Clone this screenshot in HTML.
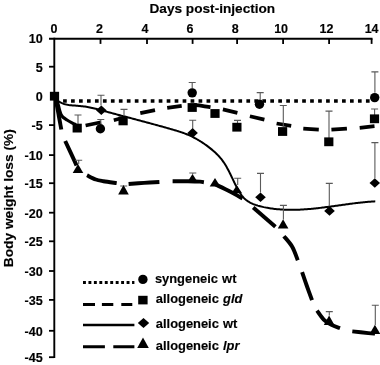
<!DOCTYPE html><html><head><meta charset="utf-8"><style>html,body{margin:0;padding:0;background:#fff;width:380px;height:365px;overflow:hidden;}svg{display:block;will-change:transform;}text{font-family:"Liberation Sans", sans-serif;font-weight:bold;fill:#000;stroke:#000;stroke-width:0.15px;}</style></head><body>
<svg width="380" height="365" viewBox="0 0 380 365">
<path d="M49,38.70 H372.50" stroke="#000" stroke-width="2.1" fill="none"/>
<path d="M54.30,37.70 V358.10" stroke="#000" stroke-width="1.9" fill="none"/>
<path d="M100.50,38.70 V43.9" stroke="#000" stroke-width="1.8" fill="none"/>
<path d="M147.00,38.70 V43.9" stroke="#000" stroke-width="1.8" fill="none"/>
<path d="M192.60,38.70 V43.9" stroke="#000" stroke-width="1.8" fill="none"/>
<path d="M237.10,38.70 V43.9" stroke="#000" stroke-width="1.8" fill="none"/>
<path d="M283.10,38.70 V43.9" stroke="#000" stroke-width="1.8" fill="none"/>
<path d="M329.10,38.70 V43.9" stroke="#000" stroke-width="1.8" fill="none"/>
<path d="M371.60,38.70 V43.9" stroke="#000" stroke-width="1.8" fill="none"/>
<path d="M49,66.70 H54.30" stroke="#000" stroke-width="1.8" fill="none"/>
<path d="M49,125.10 H54.30" stroke="#000" stroke-width="1.8" fill="none"/>
<path d="M49,155.10 H54.30" stroke="#000" stroke-width="1.8" fill="none"/>
<path d="M49,183.20 H54.30" stroke="#000" stroke-width="1.8" fill="none"/>
<path d="M49,212.70 H54.30" stroke="#000" stroke-width="1.8" fill="none"/>
<path d="M49,241.30 H54.30" stroke="#000" stroke-width="1.8" fill="none"/>
<path d="M49,271.00 H54.30" stroke="#000" stroke-width="1.8" fill="none"/>
<path d="M49,299.90 H54.30" stroke="#000" stroke-width="1.8" fill="none"/>
<path d="M49,330.80 H54.30" stroke="#000" stroke-width="1.8" fill="none"/>
<path d="M49,357.20 H54.30" stroke="#000" stroke-width="1.8" fill="none"/>
<text x="54.10" y="32.6" font-size="12.5" text-anchor="middle">0</text>
<text x="99.50" y="32.6" font-size="12.5" text-anchor="middle">2</text>
<text x="144.90" y="32.6" font-size="12.5" text-anchor="middle">4</text>
<text x="190.10" y="32.6" font-size="12.5" text-anchor="middle">6</text>
<text x="235.20" y="32.6" font-size="12.5" text-anchor="middle">8</text>
<text x="281.10" y="32.6" font-size="12.5" text-anchor="middle">10</text>
<text x="326.40" y="32.6" font-size="12.5" text-anchor="middle">12</text>
<text x="371.60" y="32.6" font-size="12.5" text-anchor="middle">14</text>
<text x="42.7" y="43.10" font-size="12.6" text-anchor="end">10</text>
<text x="42.7" y="71.70" font-size="12.6" text-anchor="end">5</text>
<text x="42.7" y="101.00" font-size="12.6" text-anchor="end">0</text>
<text x="42.7" y="130.10" font-size="12.6" text-anchor="end">-5</text>
<text x="42.7" y="160.10" font-size="12.6" text-anchor="end">-10</text>
<text x="42.7" y="188.20" font-size="12.6" text-anchor="end">-15</text>
<text x="42.7" y="217.70" font-size="12.6" text-anchor="end">-20</text>
<text x="42.7" y="246.30" font-size="12.6" text-anchor="end">-25</text>
<text x="42.7" y="276.00" font-size="12.6" text-anchor="end">-30</text>
<text x="42.7" y="304.90" font-size="12.6" text-anchor="end">-35</text>
<text x="42.7" y="335.80" font-size="12.6" text-anchor="end">-40</text>
<text x="42.7" y="362.20" font-size="12.6" text-anchor="end">-45</text>
<text x="149.5" y="13.0" font-size="13.7" textLength="125.7" lengthAdjust="spacingAndGlyphs">Days post-injection</text>
<text transform="translate(13.3,267.2) rotate(-90)" x="0" y="0" font-size="13.7" textLength="138" lengthAdjust="spacingAndGlyphs">Body weight loss (%)</text>
<path d="M55.1,101.0 H370.5" stroke="#000" stroke-width="3.7" stroke-dasharray="3.7 4.27" fill="none"/>
<path d="M55.50,97.00 C55.92,98.17 57.28,101.67 58.00,104.00 C58.72,106.33 59.30,109.25 59.80,111.00 C60.30,112.75 60.47,113.45 61.00,114.50 C61.53,115.55 62.00,116.38 63.00,117.30 C64.00,118.22 65.50,119.08 67.00,120.00 C68.50,120.92 70.50,122.00 72.00,122.80 C73.50,123.60 75.33,124.47 76.00,124.80" stroke="#000" stroke-width="3.20" fill="none"/>
<path d="M85.60,125.50 L101.00,122.30" stroke="#000" stroke-width="3.70" fill="none"/>
<path d="M113.80,120.20 L122.00,118.00" stroke="#000" stroke-width="3.70" fill="none"/>
<path d="M140.30,113.10 L155.00,110.10" stroke="#000" stroke-width="3.70" fill="none"/>
<path d="M167.20,107.90 L181.70,105.90" stroke="#000" stroke-width="3.70" fill="none"/>
<path d="M194.00,105.00 C195.33,105.13 199.25,105.43 202.00,105.80 C204.75,106.17 209.08,106.97 210.50,107.20" stroke="#000" stroke-width="3.70" fill="none"/>
<path d="M222.90,109.40 L237.40,112.90" stroke="#000" stroke-width="3.70" fill="none"/>
<path d="M249.90,116.20 L264.40,119.60" stroke="#000" stroke-width="3.70" fill="none"/>
<path d="M276.60,123.50 L291.20,125.90" stroke="#000" stroke-width="3.70" fill="none"/>
<path d="M303.30,128.60 L318.80,129.60" stroke="#000" stroke-width="3.70" fill="none"/>
<path d="M331.40,129.60 L346.90,128.60" stroke="#000" stroke-width="3.70" fill="none"/>
<path d="M359.70,127.80 L374.50,126.20" stroke="#000" stroke-width="3.70" fill="none"/>
<path d="M54.96,97.05 L55.67,98.12 L56.43,99.10 L57.24,99.98 L58.11,100.77 L59.02,101.48 L59.97,102.11 L60.97,102.67 L62.00,103.16 L63.07,103.59 L64.17,103.96 L65.30,104.28 L66.45,104.56 L67.63,104.79 L68.83,104.99 L70.05,105.16 L71.29,105.30 L72.53,105.42 L73.78,105.53 L75.04,105.62 L76.31,105.71 L77.57,105.80 L78.83,105.90 L80.09,106.01 L81.34,106.13 L82.58,106.27 L83.81,106.43 L85.03,106.61 L86.24,106.80 L87.44,107.01 L88.64,107.23 L89.83,107.46 L91.01,107.71 L92.19,107.96 L93.37,108.23 L94.54,108.51 L95.70,108.79 L96.87,109.08 L98.03,109.38 L99.18,109.68 L100.34,109.99 L101.49,110.30 L102.65,110.61 L103.80,110.92 L104.96,111.24 L106.11,111.55 L107.27,111.86 L108.42,112.18 L109.58,112.49 L110.74,112.80 L111.90,113.11 L113.06,113.42 L114.22,113.73 L115.38,114.04 L116.54,114.35 L117.71,114.67 L118.87,114.98 L120.03,115.29 L121.20,115.60 L122.36,115.91 L123.53,116.22 L124.69,116.52 L125.86,116.83 L127.02,117.14 L128.19,117.45 L129.36,117.76 L130.52,118.07 L131.69,118.39 L132.86,118.70 L134.03,119.01 L135.19,119.32 L136.36,119.63 L137.53,119.94 L138.70,120.25 L139.86,120.56 L141.03,120.87 L142.20,121.19 L143.37,121.50 L144.54,121.81 L145.70,122.13 L146.87,122.44 L148.04,122.76 L149.21,123.07 L150.37,123.39 L151.54,123.70 L152.70,124.02 L153.87,124.34 L155.04,124.66 L156.20,124.98 L157.37,125.30 L158.53,125.62 L159.69,125.94 L160.86,126.26 L162.02,126.58 L163.18,126.91 L164.35,127.23 L165.51,127.56 L166.67,127.88 L167.83,128.21 L168.99,128.54 L170.14,128.87 L171.30,129.20 L172.46,129.53 L173.61,129.86 L174.77,130.20 L175.92,130.54 L177.07,130.89 L178.21,131.25 L179.36,131.61 L180.50,131.98 L181.63,132.37 L182.76,132.76 L183.89,133.17 L185.01,133.59 L186.13,134.02 L187.24,134.47 L188.34,134.93 L189.44,135.41 L190.53,135.91 L191.62,136.42 L192.70,136.96 L193.77,137.51 L194.83,138.07 L195.89,138.66 L196.94,139.25 L197.99,139.86 L199.03,140.49 L200.06,141.12 L201.09,141.77 L202.11,142.44 L203.12,143.11 L204.13,143.79 L205.13,144.49 L206.12,145.19 L207.11,145.91 L208.09,146.63 L209.06,147.37 L210.02,148.11 L210.97,148.87 L211.91,149.64 L212.84,150.42 L213.76,151.22 L214.66,152.02 L215.54,152.84 L216.41,153.67 L217.26,154.52 L218.10,155.38 L218.92,156.25 L219.71,157.14 L220.49,158.05 L221.24,158.97 L221.98,159.90 L222.69,160.85 L223.37,161.82 L224.04,162.80 L224.69,163.79 L225.32,164.80 L225.93,165.82 L226.53,166.85 L227.12,167.89 L227.69,168.94 L228.25,170.00 L228.81,171.06 L229.35,172.14 L229.89,173.22 L230.42,174.30 L230.94,175.39 L231.47,176.49 L231.99,177.58 L232.51,178.68 L233.04,179.78 L233.57,180.88 L234.10,181.99 L234.63,183.09 L235.18,184.18 L235.73,185.28 L236.29,186.37 L236.86,187.46 L237.44,188.54 L238.04,189.62 L238.65,190.68 L239.28,191.74 L239.93,192.78 L240.60,193.80 L241.30,194.80 L242.02,195.77 L242.78,196.70 L243.57,197.59 L244.39,198.44 L245.25,199.23 L246.15,199.99 L247.09,200.69 L248.05,201.35 L249.05,201.97 L250.07,202.55 L251.12,203.09 L252.20,203.59 L253.29,204.07 L254.41,204.51 L255.54,204.92 L256.69,205.30 L257.85,205.66 L259.02,205.99 L260.20,206.30 L261.39,206.60 L262.58,206.87 L263.77,207.14 L264.96,207.38 L266.16,207.62 L267.35,207.84 L268.55,208.05 L269.74,208.24 L270.94,208.43 L272.13,208.60 L273.33,208.75 L274.53,208.90 L275.72,209.04 L276.92,209.16 L278.12,209.27 L279.32,209.37 L280.51,209.47 L281.71,209.55 L282.91,209.62 L284.11,209.68 L285.31,209.73 L286.51,209.77 L287.71,209.80 L288.91,209.82 L290.11,209.83 L291.31,209.84 L292.51,209.83 L293.72,209.82 L294.92,209.80 L296.12,209.77 L297.32,209.73 L298.52,209.69 L299.72,209.64 L300.93,209.58 L302.13,209.51 L303.33,209.44 L304.53,209.36 L305.74,209.28 L306.94,209.19 L308.14,209.09 L309.35,208.99 L310.55,208.88 L311.75,208.77 L312.96,208.66 L314.16,208.53 L315.36,208.41 L316.56,208.28 L317.77,208.14 L318.97,208.01 L320.17,207.87 L321.38,207.72 L322.58,207.57 L323.78,207.42 L324.98,207.27 L326.19,207.11 L327.39,206.96 L328.59,206.80 L329.79,206.64 L331.00,206.47 L332.20,206.31 L333.40,206.14 L334.60,205.98 L335.80,205.81 L337.00,205.64 L338.20,205.47 L339.41,205.31 L340.61,205.14 L341.81,204.97 L343.01,204.80 L344.21,204.64 L345.41,204.47 L346.60,204.31 L347.80,204.15 L349.00,203.99 L350.20,203.83 L351.40,203.67 L352.60,203.52 L353.79,203.37 L354.99,203.22 L356.19,203.08 L357.38,202.93 L358.58,202.80 L359.77,202.66 L360.97,202.53 L362.16,202.40 L363.36,202.28 L364.55,202.16 L365.74,202.05 L366.93,201.94 L368.13,201.84 L369.32,201.74 L370.51,201.65 L371.70,201.56 L372.89,201.48 L374.08,201.41 L375.27,201.34" stroke="#000" stroke-width="2.0" fill="none" stroke-linejoin="round"/>
<path d="M56.00,100.50 L61.30,129.50" stroke="#000" stroke-width="3.95" fill="none" stroke-linejoin="round"/>
<path d="M65.20,141.00 C66.65,144.10 72.02,155.52 73.90,159.60 C75.78,163.68 76.07,164.52 76.50,165.50" stroke="#000" stroke-width="3.95" fill="none" stroke-linejoin="round"/>
<path d="M87.00,175.30 C88.47,176.00 93.05,178.52 95.80,179.50 C98.55,180.48 100.02,180.60 103.50,181.20 C106.98,181.80 114.50,182.78 116.70,183.10" stroke="#000" stroke-width="3.95" fill="none" stroke-linejoin="round"/>
<path d="M128.60,184.00 C131.17,183.82 138.87,183.23 144.00,182.90 C149.13,182.57 156.83,182.15 159.40,182.00" stroke="#000" stroke-width="3.95" fill="none" stroke-linejoin="round"/>
<path d="M172.60,181.20 C175.17,181.20 183.43,181.13 188.00,181.20 C192.57,181.27 197.35,181.43 200.00,181.60 C202.65,181.77 203.25,182.10 203.90,182.20" stroke="#000" stroke-width="3.95" fill="none" stroke-linejoin="round"/>
<path d="M215.50,184.50 C217.92,185.67 225.50,189.17 230.00,191.50 C234.50,193.83 240.42,197.33 242.50,198.50" stroke="#000" stroke-width="3.95" fill="none" stroke-linejoin="round"/>
<path d="M253.20,207.50 L275.40,226.70" stroke="#000" stroke-width="3.95" fill="none" stroke-linejoin="round"/>
<path d="M283.90,236.20 C285.28,237.95 289.88,242.70 292.20,246.70 C294.52,250.70 296.87,257.95 297.80,260.20" stroke="#000" stroke-width="3.95" fill="none" stroke-linejoin="round"/>
<path d="M302.10,272.20 C302.87,274.42 305.05,280.83 306.70,285.50 C308.35,290.17 311.12,297.75 312.00,300.20" stroke="#000" stroke-width="3.95" fill="none" stroke-linejoin="round"/>
<path d="M317.00,310.60 C318.12,312.10 321.30,317.23 323.70,319.60 C326.10,321.97 328.68,323.38 331.40,324.80 C334.12,326.22 338.57,327.55 340.00,328.10" stroke="#000" stroke-width="3.95" fill="none" stroke-linejoin="round"/>
<path d="M352.30,331.40 C354.97,331.68 364.52,332.73 368.30,333.10 C372.08,333.47 373.88,333.52 375.00,333.60" stroke="#000" stroke-width="3.95" fill="none" stroke-linejoin="round"/>
<path d="M100.80,124.00 V119.50 M97.30,119.50 H104.30" stroke="#5a5a5a" stroke-width="1.1" fill="none"/>
<path d="M192.20,88.50 V82.50 M188.70,82.50 H195.70" stroke="#5a5a5a" stroke-width="1.1" fill="none"/>
<path d="M260.20,99.50 V92.60 M256.70,92.60 H263.70" stroke="#5a5a5a" stroke-width="1.1" fill="none"/>
<path d="M374.90,92.80 V71.90 M371.40,71.90 H378.40" stroke="#5a5a5a" stroke-width="1.1" fill="none"/>
<path d="M78.00,124.00 V115.00 M74.50,115.00 H81.50" stroke="#5a5a5a" stroke-width="1.1" fill="none"/>
<path d="M124.00,116.00 V109.40 M120.50,109.40 H127.50" stroke="#5a5a5a" stroke-width="1.1" fill="none"/>
<path d="M237.50,123.20 V120.40 M234.00,120.40 H241.00" stroke="#5a5a5a" stroke-width="1.1" fill="none"/>
<path d="M283.30,127.00 V105.50 M279.80,105.50 H286.80" stroke="#5a5a5a" stroke-width="1.1" fill="none"/>
<path d="M329.00,138.00 V111.10 M325.50,111.10 H332.50" stroke="#5a5a5a" stroke-width="1.1" fill="none"/>
<path d="M374.60,115.00 V109.00 M371.10,109.00 H378.10" stroke="#5a5a5a" stroke-width="1.1" fill="none"/>
<path d="M101.00,105.50 V95.30 M97.50,95.30 H104.50" stroke="#5a5a5a" stroke-width="1.1" fill="none"/>
<path d="M192.70,128.40 V120.20 M189.20,120.20 H196.20" stroke="#5a5a5a" stroke-width="1.1" fill="none"/>
<path d="M260.50,192.50 V173.40 M257.00,173.40 H264.00" stroke="#5a5a5a" stroke-width="1.1" fill="none"/>
<path d="M329.30,206.70 V183.40 M325.80,183.40 H332.80" stroke="#5a5a5a" stroke-width="1.1" fill="none"/>
<path d="M374.90,178.30 V142.60 M371.40,142.60 H378.40" stroke="#5a5a5a" stroke-width="1.1" fill="none"/>
<path d="M78.70,164.00 V160.20 M75.20,160.20 H82.20" stroke="#5a5a5a" stroke-width="1.1" fill="none"/>
<path d="M123.70,186.50 V186.00 M120.20,186.00 H127.20" stroke="#5a5a5a" stroke-width="1.1" fill="none"/>
<path d="M192.80,174.20 V173.00 M189.30,173.00 H196.30" stroke="#5a5a5a" stroke-width="1.1" fill="none"/>
<path d="M237.70,185.00 V178.20 M234.20,178.20 H241.20" stroke="#5a5a5a" stroke-width="1.1" fill="none"/>
<path d="M283.40,219.50 V205.40 M279.90,205.40 H286.90" stroke="#5a5a5a" stroke-width="1.1" fill="none"/>
<path d="M329.30,315.50 V311.60 M325.80,311.60 H332.80" stroke="#5a5a5a" stroke-width="1.1" fill="none"/>
<path d="M375.30,325.00 V305.20 M371.80,305.20 H378.80" stroke="#5a5a5a" stroke-width="1.1" fill="none"/>
<circle cx="100.40" cy="128.80" r="4.70" fill="#000"/>
<circle cx="192.20" cy="92.85" r="4.70" fill="#000"/>
<circle cx="259.50" cy="104.30" r="4.70" fill="#000"/>
<circle cx="374.70" cy="97.60" r="4.70" fill="#000"/>
<rect x="49.90" y="91.80" width="9.20" height="8.80" fill="#000"/>
<rect x="72.60" y="123.70" width="9.20" height="8.80" fill="#000"/>
<rect x="118.50" y="116.50" width="9.20" height="8.80" fill="#000"/>
<rect x="187.60" y="103.10" width="9.20" height="8.80" fill="#000"/>
<rect x="210.40" y="109.10" width="9.20" height="8.80" fill="#000"/>
<rect x="232.30" y="122.80" width="9.20" height="8.80" fill="#000"/>
<rect x="278.00" y="127.10" width="9.20" height="8.80" fill="#000"/>
<rect x="324.20" y="137.40" width="9.20" height="8.80" fill="#000"/>
<rect x="369.90" y="114.40" width="9.20" height="8.80" fill="#000"/>
<path d="M101.30,105.40 L106.60,110.20 L101.30,115.00 L96.00,110.20 Z" fill="#000"/>
<path d="M192.60,128.10 L197.90,132.90 L192.60,137.70 L187.30,132.90 Z" fill="#000"/>
<path d="M260.50,192.50 L265.80,197.30 L260.50,202.10 L255.20,197.30 Z" fill="#000"/>
<path d="M329.50,206.10 L334.80,210.90 L329.50,215.70 L324.20,210.90 Z" fill="#000"/>
<path d="M374.80,178.20 L380.10,183.00 L374.80,187.80 L369.50,183.00 Z" fill="#000"/>
<path d="M78.00,163.90 L83.30,173.00 L72.70,173.00 Z" fill="#000"/>
<path d="M123.50,185.00 L128.80,194.50 L118.20,194.50 Z" fill="#000"/>
<path d="M192.50,173.90 L197.80,182.30 L187.20,182.30 Z" fill="#000"/>
<path d="M215.00,178.00 L220.30,186.50 L209.70,186.50 Z" fill="#000"/>
<path d="M236.80,185.20 L242.10,193.20 L231.50,193.20 Z" fill="#000"/>
<path d="M283.10,219.30 L288.40,228.40 L277.80,228.40 Z" fill="#000"/>
<path d="M329.10,315.50 L334.40,324.90 L323.80,324.90 Z" fill="#000"/>
<path d="M374.90,324.70 L380.20,333.90 L369.60,333.90 Z" fill="#000"/>
<path d="M83,282.6 H134.4" stroke="#000" stroke-width="3" stroke-dasharray="2.9 2.55" fill="none"/>
<path d="M83,304.4 H95 M101.9,304.4 H113.3 M121.3,304.4 H132.3" stroke="#000" stroke-width="3" fill="none"/>
<path d="M83,325 H134.4" stroke="#000" stroke-width="2.6" fill="none"/>
<path d="M83,346.8 H104.9 M113.3,346.8 H134.4" stroke="#000" stroke-width="3" fill="none"/>
<circle cx="142.90" cy="279.40" r="4.70" fill="#000"/>
<rect x="138.2" y="295.8" width="9.4" height="8.6" fill="#000"/>
<path d="M143.50,318.00 L149.20,323.00 L143.50,328.00 L137.80,323.00 Z" fill="#000"/>
<path d="M143.00,337.40 L148.80,347.90 L137.20,347.90 Z" fill="#000"/>
<text x="154.90" y="283.1" font-size="12.90" word-spacing="0.6">syngeneic wt</text>
<text x="155.80" y="303.1" font-size="12.90" word-spacing="0.6">allogeneic <tspan font-style="italic">gld</tspan></text>
<text x="155.80" y="327.5" font-size="12.90" word-spacing="0.6">allogeneic wt</text>
<text x="155.80" y="349.8" font-size="12.90" word-spacing="0.6">allogeneic <tspan font-style="italic">lpr</tspan></text>
</svg></body></html>
